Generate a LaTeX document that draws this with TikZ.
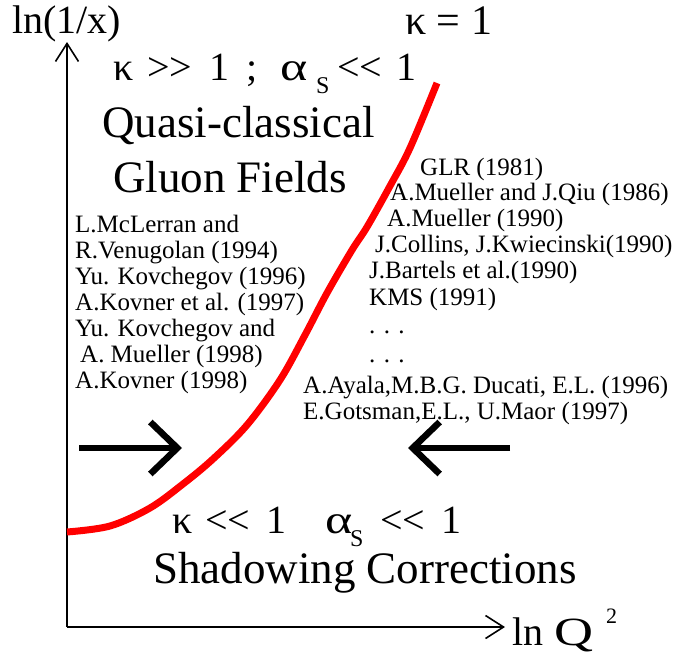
\documentclass[tikz,border=0pt]{standalone}
\usepackage{graphicx}
\usepackage{fontspec}
\setmainfont{Liberation Serif}[Ligatures=NoCommon]
\usetikzlibrary{arrows.meta}
\newcommand{\fsz}[1]{\fontsize{#1}{#1}\selectfont}
\newcommand{\subS}[1]{\raisebox{-0.33em}{\fontsize{#1}{#1}\selectfont S}}
\newcommand{\gtgt}{>\kern0pt>}
\newcommand{\ltlt}{<\kern0pt<}
\newcommand{\bx}[2]{\makebox[#1pt][l]{#2}}
\begin{document}
\begin{tikzpicture}[x=1pt,y=-1pt,
  txt/.style={inner sep=0pt,anchor=base west},
  ref/.style={inner sep=0pt,anchor=base west,font=\fsz{25}},
  axis/.style={line width=1.6pt,-{Straight Barb[length=18pt,width=23pt,line width=1.6pt]}},
  bigarrow/.style={line width=6.5pt,-{Straight Barb[length=27pt,width=52pt,line width=6.5pt]}},
  boundary/.style={red,line width=7pt}]
\useasboundingbox (0,0) rectangle (681,657);
% axes
\coordinate (O) at (67,627);
\coordinate (ytip) at (67,42);
\coordinate (xtip) at (505,627);
\draw[axis] (O) -- (ytip);
\draw[axis] (O) -- (xtip);
\node[txt,font=\fsz{40}] (ylab) at (12,33) {ln(1/x)};
\node[txt,font=\fsz{40}] (xlab) at (512,645) {\bx{42}{ln}\bx{52}{\scalebox{1.35}[1]{Q}}\raisebox{22pt}{\fsz{22}2}};
% boundary curve
\draw[boundary] plot[smooth,tension=0.55] coordinates {(67,532) (110,526) (150,508) (183,484) (213,459) (247,425) (280,380) (305,335) (327,293) (352,250) (367,227) (390,186) (410,148) (437,83)};
% top labels
\node[txt,font=\fsz{42}] (k1) at (405,34) {κ = 1};
\node[txt,font=\fsz{40}] (kbig) at (113,80) {\bx{34}{κ}\bx{62}{\gtgt}\bx{37}{1}\bx{34}{;}\bx{36}{\scalebox{1.3}[1]{α}}\bx{21}{\subS{24}}\bx{59}{\ltlt}1};
\node[txt,font=\fsz{45}] (qc) at (102,137) {Quasi-classical};
\node[txt,font=\fsz{45}] (gf) at (113,192) {Gluon Fields};
% left references
\node[ref] (l1) at (75,232) {L.McLerran and};
\node[ref] (l2) at (75,258) {R.Venugolan (1994)};
\node[ref] (l3) at (75,284) {Yu. Kovchegov (1996)};
\node[ref] (l4) at (75,310) {A.Kovner et al. (1997)};
\node[ref] (l5) at (75,336) {Yu. Kovchegov and};
\node[ref] (l6) at (80,362) {A. Mueller (1998)};
\node[ref] (l7) at (75,388) {A.Kovner (1998)};
% right references
\node[ref] (r1) at (420,175) {GLR (1981)};
\node[ref] (r2) at (390,200) {A.Mueller and J.Qiu (1986)};
\node[ref] (r3) at (387,226) {A.Mueller (1990)};
\node[ref] (r4) at (375,252) {J.Collins, J.Kwiecinski(1990)};
\node[ref] (r5) at (369,278) {J.Bartels et al.(1990)};
\node[ref] (r6) at (369,305) {KMS (1991)};
\node[ref] (r7) at (369,333) {. . .};
\node[ref] (r8) at (369,362) {. . .};
\node[ref] (r9) at (303,393) {A.Ayala,M.B.G. Ducati, E.L. (1996)};
\node[ref] (r10) at (303,419) {E.Gotsman,E.L., U.Maor (1997)};
% big arrows
\coordinate (la) at (79,448);
\coordinate (lt) at (182,448);
\coordinate (ra) at (510,448);
\coordinate (rt) at (408,448);
\draw[bigarrow] (la) -- (lt);
\draw[bigarrow] (ra) -- (rt);
% bottom labels
\node[txt,font=\fsz{40}] (ksmall) at (172,533) {\bx{33}{κ}\bx{61}{\ltlt}\bx{59}{1}\bx{25}{\scalebox{1.3}[1]{α}}\bx{30}{\subS{24}}\bx{61}{\ltlt}1};
\node[txt,font=\fsz{45}] (sc) at (153,583) {Shadowing Corrections};
\end{tikzpicture}
\end{document}
